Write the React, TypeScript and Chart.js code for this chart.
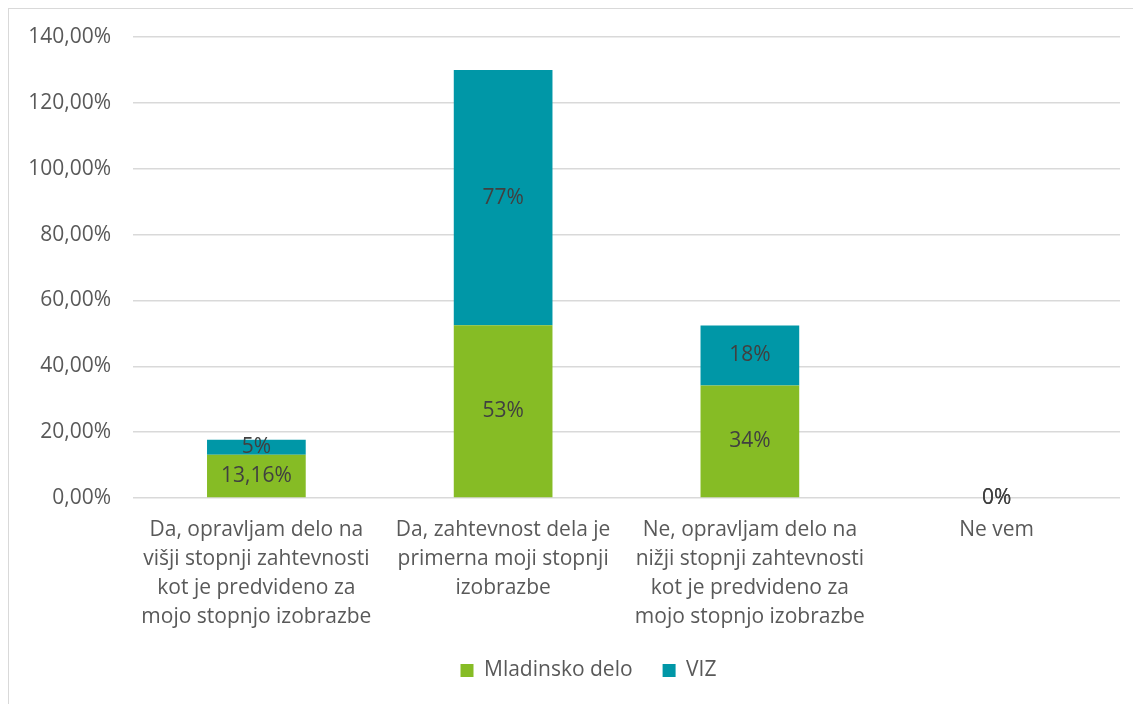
import React, { useEffect, useRef } from "react";
import { Chart, registerables } from "chart.js";

Chart.register(...registerables);

const categories: string[][] = [
  ["Da, opravljam delo na", "višji stopnji zahtevnosti", "kot je predvideno za", "mojo stopnjo izobrazbe"],
  ["Da, zahtevnost dela je", "primerna moji stopnji", "izobrazbe"],
  ["Ne, opravljam delo na", "nižji stopnji zahtevnosti", "kot je predvideno za", "mojo stopnjo izobrazbe"],
  ["Ne vem"],
];

const mladinskoValues = [13.16, 52.5, 34.2, 0];
const vizValues = [4.5, 77.5, 18.2, 0];
const mladinskoLabels = ["13,16%", "53%", "34%", "0%"];
const vizLabels = ["5%", "77%", "18%", "0%"];

const seriesNames = ["Mladinsko delo", "VIZ"];
const seriesColors = ["#86BC25", "#0097A7"];

const yMin = 0;
const yMax = 140;
const yStep = 20;

const FONT = "'Open Sans', sans-serif";

const dataLabelPlugin = {
  id: "dataLabels",
  afterDatasetsDraw(chart: any) {
    const ctx = chart.ctx;
    const labelSets = [mladinskoLabels, vizLabels];
    ctx.save();
    ctx.font = `21px ${FONT}`;
    ctx.fillStyle = "#404040";
    ctx.textAlign = "center";
    ctx.textBaseline = "middle";
    chart.data.datasets.forEach((_ds: any, di: number) => {
      const meta = chart.getDatasetMeta(di);
      meta.data.forEach((el: any, i: number) => {
        const y = (el.y + el.base) / 2;
        ctx.fillText(labelSets[di][i], el.x, y);
      });
    });
    ctx.restore();
  },
};

const legendShiftPlugin = {
  id: "legendShift",
  afterLayout(chart: any) {
    const lg = chart.legend;
    if (lg) {
      lg.left += 24;
      lg.right += 24;
    }
  },
};

export default function App() {
  const ref = useRef<HTMLCanvasElement | null>(null);

  useEffect(() => {
    if (!ref.current) return;
    const chart = new Chart(ref.current, {
      type: "bar",
      data: {
        labels: categories,
        datasets: [
          {
            label: seriesNames[0],
            data: mladinskoValues,
            backgroundColor: seriesColors[0],
            categoryPercentage: 0.8,
            barPercentage: 0.5,
          },
          {
            label: seriesNames[1],
            data: vizValues,
            backgroundColor: seriesColors[1],
            categoryPercentage: 0.8,
            barPercentage: 0.5,
          },
        ],
      },
      options: {
        animation: false,
        responsive: false,
        maintainAspectRatio: false,
        layout: { padding: { left: 0, right: 21, top: 28, bottom: 13 } },
        plugins: {
          tooltip: { enabled: false },
          legend: {
            position: "bottom",
            labels: {
              boxWidth: 13,
              boxHeight: 13,
              color: "#595959",
              font: { family: FONT, size: 21 },
              padding: 30,
            },
          },
        },
        scales: {
          x: {
            stacked: true,
            grid: { display: false, drawTicks: false },
            border: { display: false },
            afterFit: (scale: any) => {
              scale.height = 132;
            },
            ticks: {
              color: "#595959",
              font: { family: FONT, size: 21, lineHeight: 1.38 },
              padding: 18,
              maxRotation: 0,
              autoSkip: false,
            },
          },
          y: {
            stacked: true,
            min: yMin,
            max: yMax,
            grid: { color: "#d9d9d9", lineWidth: 1.5, drawTicks: false },
            border: { display: false },
            afterFit: (scale: any) => {
              scale.width = 124;
              scale.paddingTop = 0;
              scale.paddingBottom = 0;
            },
            ticks: {
              stepSize: yStep,
              color: "#595959",
              font: { family: FONT, size: 21 },
              padding: 22,
              callback: (v: any) => Number(v).toFixed(2).replace(".", ",") + "%",
            },
          },
        },
      },
      plugins: [dataLabelPlugin, legendShiftPlugin],
    });
    return () => chart.destroy();
  }, []);

  return (
    <div
      style={{
        width: 1133,
        height: 696,
        borderLeft: "1px solid #d9d9d9",
        borderTop: "1px solid #d9d9d9",
        boxSizing: "border-box",
        background: "#fff",
      }}
    >
      <canvas ref={ref} width={1132} height={695} style={{ display: "block" }} />
    </div>
  );
}
